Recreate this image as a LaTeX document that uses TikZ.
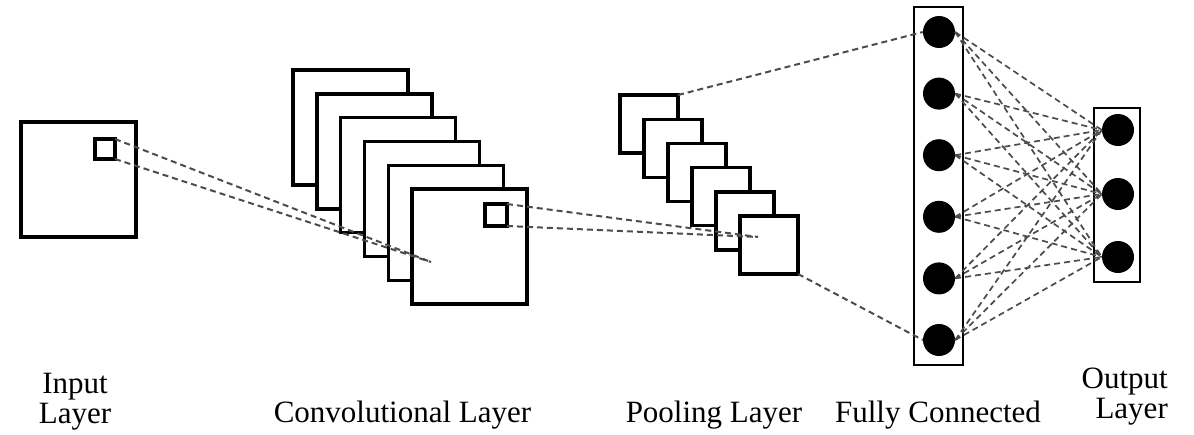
\documentclass[tikz,border=0pt]{standalone}
\usepackage{fontspec}
\setmainfont{Liberation Serif}
\begin{document}
\begin{tikzpicture}[x=1pt,y=-1pt,
 sq/.style={draw=black, fill=white, line width=3.4pt, inner sep=0pt, outer sep=0pt, anchor=north west},
 dl/.style={draw=black!70, line width=2pt, dash pattern=on 6pt off 4pt},
 neuron/.style={circle, fill=black, minimum size=32pt, inner sep=0pt},
 col/.style={draw=black, line width=2.4pt, fill=white, inner sep=0pt, outer sep=0pt, anchor=north west},
 lab/.style={font=\fontsize{31}{30}\selectfont, inner sep=0pt}]
\useasboundingbox[fill=white] (0,0) rectangle (1194,434);
% input layer
\node[sq, minimum size=115pt] (in) at (21,122) {};
\node[sq, minimum size=20pt, line width=3.2pt] (is) at (95,139) {};
% convolutional layer
\foreach \i in {0,...,5}
  \node[sq, minimum size=115pt] (c\i) at ({293+23.8*\i},{70+23.8*\i}) {};
\node[sq, minimum size=22pt, line width=3.2pt] (cs) at (485,204) {};
% pooling layer
\foreach \i in {0,...,5}
  \node[sq, minimum size=58pt] (p\i) at ({620+24*\i},{95+24.2*\i}) {};
% fully connected
\node[col, minimum width=49pt, minimum height=358pt] (fc) at (914,7) {};
\foreach \i in {1,...,6}
  \node[neuron] (f\i) at (939,{32+61.6*(\i-1)}) {};
% output
\node[col, minimum width=46pt, minimum height=174pt] (ob) at (1094,108) {};
\foreach \j/\y in {1/130,2/194,3/257}
  \node[neuron] (o\j) at (1118,\y) {};
% focus points
\coordinate (cf) at (431,262);
\coordinate (pf) at (758,237);
% connectors
\draw[dl] (is.north east) -- (cf);
\draw[dl] (is.south east) -- (cf);
\draw[dl] (cs.north east) -- (pf);
\draw[dl] (cs.south east) -- (pf);
\draw[dl] (p0.north east) -- (f1.west);
\draw[dl] (p5.south east) -- (f6.west);
\foreach \i in {1,...,6}
  \foreach \j in {1,2,3}
    \draw[dl, line width=1.7pt] (f\i.east) -- (o\j.west);
% labels
\node[lab, align=center, anchor=base] (li) at (75,423) {Input\\Layer};
\node[lab, anchor=base] (lc) at (402.5,422) {Convolutional Layer};
\node[lab, anchor=base] (lp) at (714,422) {Pooling Layer};
\node[lab, anchor=base] (lf) at (938,422) {Fully Connected};
\node[lab, align=right, anchor=base east] (lo) at (1168,418) {Output\\Layer};
\end{tikzpicture}
\end{document}
